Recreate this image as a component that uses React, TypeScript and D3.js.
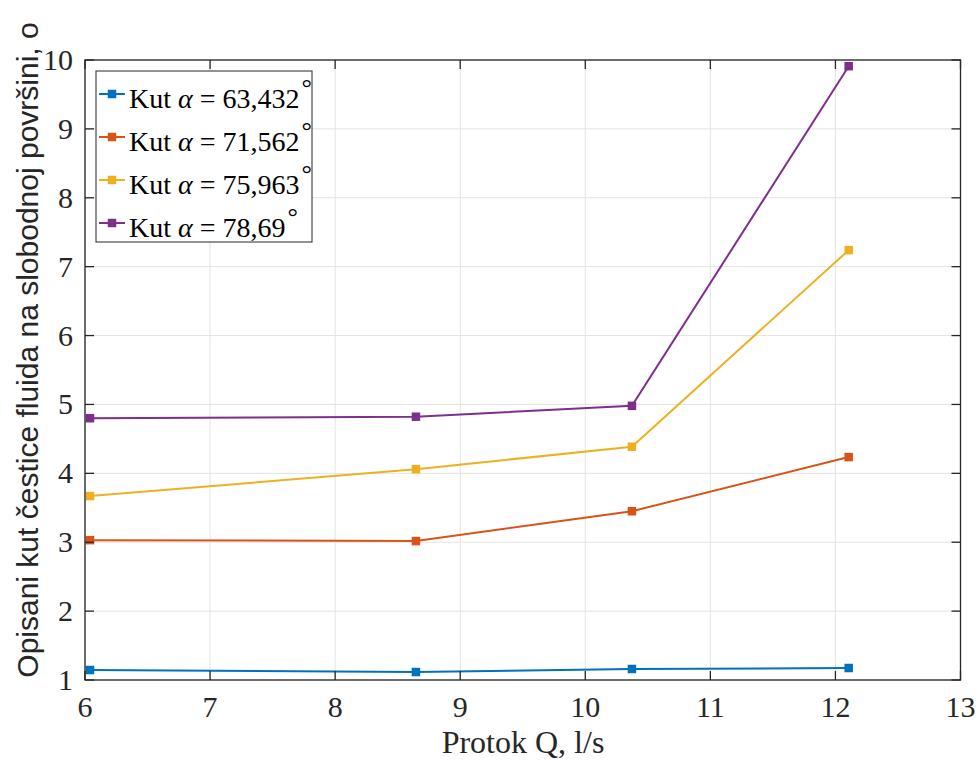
import React from "react";
import * as d3 from "d3";

const xValues = [6.04, 8.646, 10.373, 12.106];
const seriesNames = ["63,432", "71,562", "75,963", "78,69"];
const series1 = [1.145, 1.116, 1.16, 1.174];
const series2 = [3.03, 3.017, 3.45, 4.236];
const series3 = [3.67, 4.06, 4.386, 7.24];
const series4 = [4.8, 4.822, 4.98, 9.91];
const colors = ["#0072BD", "#D95319", "#EDB120", "#7E2F8E"];
const xTicks = [6, 7, 8, 9, 10, 11, 12, 13];
const yTicks = [1, 2, 3, 4, 5, 6, 7, 8, 9, 10];

export default function App() {
  const W = 979, H = 760;
  const left = 85, right = 960.5, top = 60, bottom = 680;
  const x = d3.scaleLinear().domain([6, 13]).range([left, right]);
  const y = d3.scaleLinear().domain([1, 10]).range([bottom, top]);
  const all = [series1, series2, series3, series4];
  const line = d3.line<number>().x((_, i) => x(xValues[i])).y((d) => y(d));
  const serif = "'Liberation Serif', 'Times New Roman', serif";
  const tick = 9;
  const ms = 8.5;
  return (
    <svg width={W} height={H} style={{ position: "absolute", left: 0, top: 0, background: "#fff" }}>
      <rect x={0} y={0} width={W} height={H} fill="#fff" />
      {xTicks.map((t) => (
        <line key={"gx" + t} x1={x(t)} x2={x(t)} y1={top} y2={bottom} stroke="#e3e3e3" strokeWidth={1} />
      ))}
      {yTicks.map((t) => (
        <line key={"gy" + t} x1={left} x2={right} y1={y(t)} y2={y(t)} stroke="#e3e3e3" strokeWidth={1} />
      ))}
      {all.map((s, k) => (
        <g key={"s" + k}>
          <path d={line(s) || ""} fill="none" stroke={colors[k]} strokeWidth={2} />
          {s.map((v, i) => (
            <rect key={i} x={x(xValues[i]) - ms / 2} y={y(v) - ms / 2} width={ms} height={ms} fill={colors[k]} />
          ))}
        </g>
      ))}
      <rect x={left} y={top} width={right - left} height={bottom - top} fill="none" stroke="#262626" strokeWidth={1.3} />
      {xTicks.map((t) => (
        <g key={"tx" + t}>
          <line x1={x(t)} x2={x(t)} y1={bottom} y2={bottom - tick} stroke="#262626" strokeWidth={1.3} />
          <line x1={x(t)} x2={x(t)} y1={top} y2={top + tick} stroke="#262626" strokeWidth={1.3} />
          <text x={x(t)} y={717} textAnchor="middle" fontFamily={serif} fontSize={30} fill="#262626">{t}</text>
        </g>
      ))}
      {yTicks.map((t) => (
        <g key={"ty" + t}>
          <line x1={left} x2={left + tick} y1={y(t)} y2={y(t)} stroke="#262626" strokeWidth={1.3} />
          <line x1={right} x2={right - tick} y1={y(t)} y2={y(t)} stroke="#262626" strokeWidth={1.3} />
          <text x={73} y={y(t) + 10} textAnchor="end" fontFamily={serif} fontSize={30} fill="#262626">{t}</text>
        </g>
      ))}
      <text x={523} y={753} textAnchor="middle" fontFamily={serif} fontSize={32} fill="#262626">Protok Q, l/s</text>
      <text transform={`translate(38, 350) rotate(-90)`} textAnchor="middle" fontFamily="'Liberation Sans', Arial, sans-serif" fontSize={30} fill="#262626">
        Opisani kut čestice fluida na slobodnoj površini, o
      </text>
      <rect x={96} y={71} width={216} height={171} fill="#fff" stroke="#262626" strokeWidth={1} />
      {seriesNames.map((n, i) => {
        const cy = 94 + i * 43;
        return (
          <g key={"l" + i}>
            <line x1={99} x2={125} y1={cy} y2={cy} stroke={colors[i]} strokeWidth={2} />
            <rect x={112 - ms / 2} y={cy - ms / 2} width={ms} height={ms} fill={colors[i]} />
            <text x={129} y={cy + 14} fontFamily={serif} fontSize={28} fill="#000">
              Kut <tspan fontStyle="italic">α</tspan> = {n}
              <tspan dx={2} dy={-12} fontSize={26}>°</tspan>
            </text>
          </g>
        );
      })}
    </svg>
  );
}
